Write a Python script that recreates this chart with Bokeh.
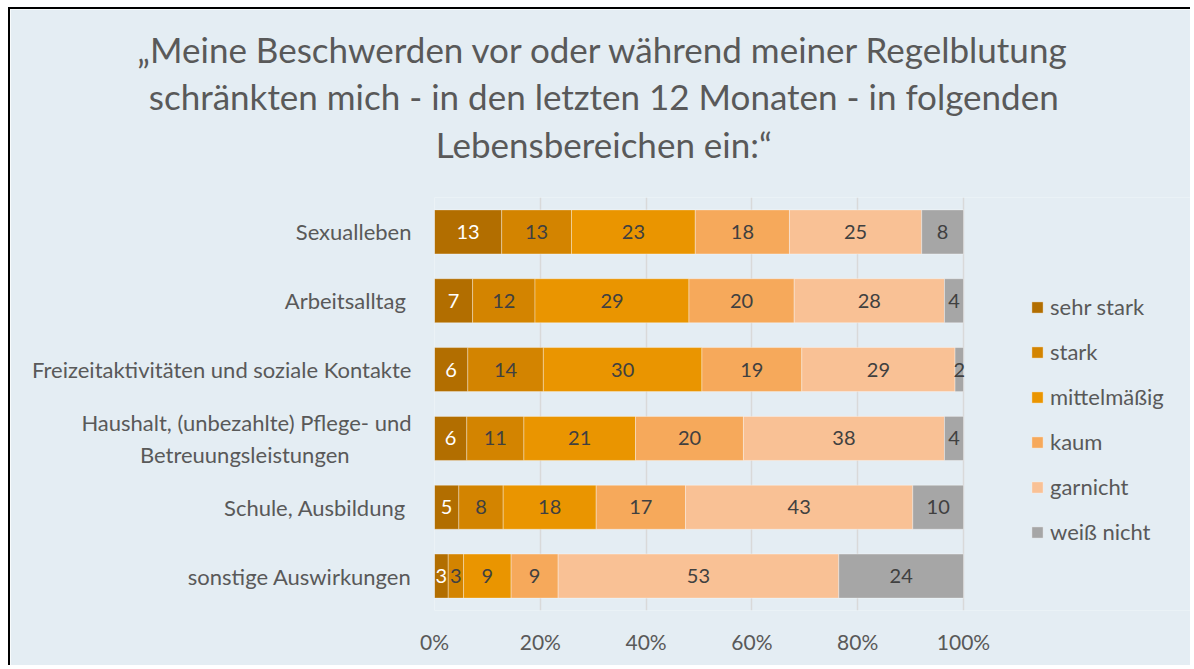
from bokeh.plotting import figure
from bokeh.models import (FactorRange, Range1d, ColumnDataSource, Legend,
                          LegendItem, FixedTicker, LinearAxis)
from bokeh.core.properties import value
from bokeh.embed import file_html
from bokeh.resources import INLINE

# ---------------- data ----------------
categories = [
    "Sexualleben",
    "Arbeitsalltag ",
    "Freizeitaktivitäten und soziale Kontakte",
    "Haushalt, (unbezahlte) Pflege- und\nBetreuungsleistungen" + "\u00a0" * 11,
    "Schule, Ausbildung ",
    "sonstige Auswirkungen",
]
series = ["sehr stark", "stark", "mittelmäßig", "kaum", "garnicht", "weiß nicht"]
sehr_stark = [12.7, 7.2, 6.3, 6.1, 4.6, 2.6]
stark = [13.2, 11.8, 14.3, 10.8, 8.4, 2.9]
mittelmaessig = [23.4, 29.1, 30.0, 21.1, 17.6, 9.0]
kaum = [17.8, 19.9, 18.9, 20.4, 16.9, 8.9]
garnicht = [25.0, 28.4, 29.0, 38.0, 43.0, 53.1]
weiss_nicht = [7.9, 3.6, 1.6, 3.6, 9.6, 23.6]
colors = ["#B26E00", "#D38400", "#EA9500", "#F6A95B", "#F9C195", "#A6A6A6"]
x_ticks = [0, 20, 40, 60, 80, 100]
x_tick_labels = ["0%", "20%", "40%", "60%", "80%", "100%"]
title_lines = [
    "„Meine Beschwerden vor oder während meiner Regelblutung",
    "schränkten mich - in den letzten 12 Monaten - in folgenden",
    "Lebensbereichen ein:“",
]

FONT = "Lato"
TXT = "#595959"
BG = "#E4EDF3"

W, H = 1182, 658
LEFT, TOP, BOTTOM = 424, 188, 57
FRAME_W = 529            # pixel width of 0..100 %
TITLE_POS = 32           # title centre, in % units of the x scale

values = [sehr_stark, stark, mittelmaessig, kaum, garnicht, weiss_nicht]

x_end = 100 * (W - LEFT) / FRAME_W   # frame also hosts the legend on the right
p = figure(
    width=W, height=H,
    y_range=FactorRange(factors=list(reversed(categories))),
    x_range=Range1d(0, x_end),
    output_backend="svg", toolbar_location=None,
    min_border_left=LEFT, min_border_right=0,
    min_border_top=TOP, min_border_bottom=BOTTOM,
)
p.styles = {"margin-left": "8px", "margin-top": "7px",
            "border-left": "2px solid black", "border-top": "2px solid black"}
p.background_fill_color = BG
p.border_fill_color = BG
p.outline_line_color = None

totals = [sum(v[i] for v in values) for i in range(len(categories))]
left = [0.0] * len(categories)
renderers = []
lab_x, lab_y, lab_t, lab_c = [], [], [], []
for k, (name, vals, col) in enumerate(zip(series, values, colors)):
    widths = [vals[i] / totals[i] * 100 for i in range(len(categories))]
    right = [left[i] + widths[i] for i in range(len(categories))]
    src = ColumnDataSource(dict(y=categories, left=list(left), right=right))
    r = p.hbar(y="y", left="left", right="right", height=0.64, source=src,
               fill_color=col, line_color="#FFFFFF", line_alpha=0.35, line_width=1)
    renderers.append(r)
    for i in range(len(categories)):
        lab_x.append((left[i] + right[i]) / 2)
        lab_y.append(categories[i])
        lab_t.append(f"{vals[i]:.0f}")
        lab_c.append("#FFFFFF" if k == 0 else "#404040")
    left = right

p.text(x="x", y="y", text="t", text_color="c",
       source=ColumnDataSource(dict(x=lab_x, y=lab_y, t=lab_t, c=lab_c)),
       text_align="center", text_baseline="middle",
       text_font=value(FONT), text_font_size="20px")

p.xaxis.ticker = FixedTicker(ticks=x_ticks)
p.xaxis.major_label_overrides = {t_: l for t_, l in zip(x_ticks, x_tick_labels)}
for ax in (p.xaxis[0], p.yaxis[0]):
    ax.axis_line_color = None
    ax.major_tick_line_color = None
    ax.minor_tick_line_color = None
    ax.major_label_text_font = FONT
    ax.major_label_text_color = TXT
p.xaxis.major_label_text_font_size = "21px"
p.yaxis.major_label_text_font_size = "22px"
p.xaxis.major_label_standoff = 12
p.yaxis.major_label_standoff = 17

p.xgrid.grid_line_color = "#D9D9D9"
p.xgrid.grid_line_width = 1.5
p.ygrid.grid_line_color = None

# chart title, set as the single centred label of an axis above the plot
title_axis = LinearAxis(
    ticker=FixedTicker(ticks=[TITLE_POS]),
    major_label_overrides={TITLE_POS: "\n".join(title_lines)},
    axis_line_color=None, major_tick_line_color=None, minor_tick_line_color=None,
    major_label_text_font=FONT, major_label_text_font_size="35px",
    major_label_text_color=TXT, major_label_text_line_height=1.12,
    major_label_standoff=27,
)
p.add_layout(title_axis, "above")

legend = Legend(
    items=[LegendItem(label=s, renderers=[r]) for s, r in zip(series, renderers)],
    location=(596, 65), orientation="vertical",
    label_text_font=FONT, label_text_font_size="22px", label_text_color=TXT,
    glyph_width=14, glyph_height=14, label_height=24, label_standoff=6,
    spacing=18, padding=0, margin=0,
    border_line_color=None, background_fill_alpha=0,
)
p.add_layout(legend, "center")

open("out.html", "w").write(file_html(p, INLINE))
